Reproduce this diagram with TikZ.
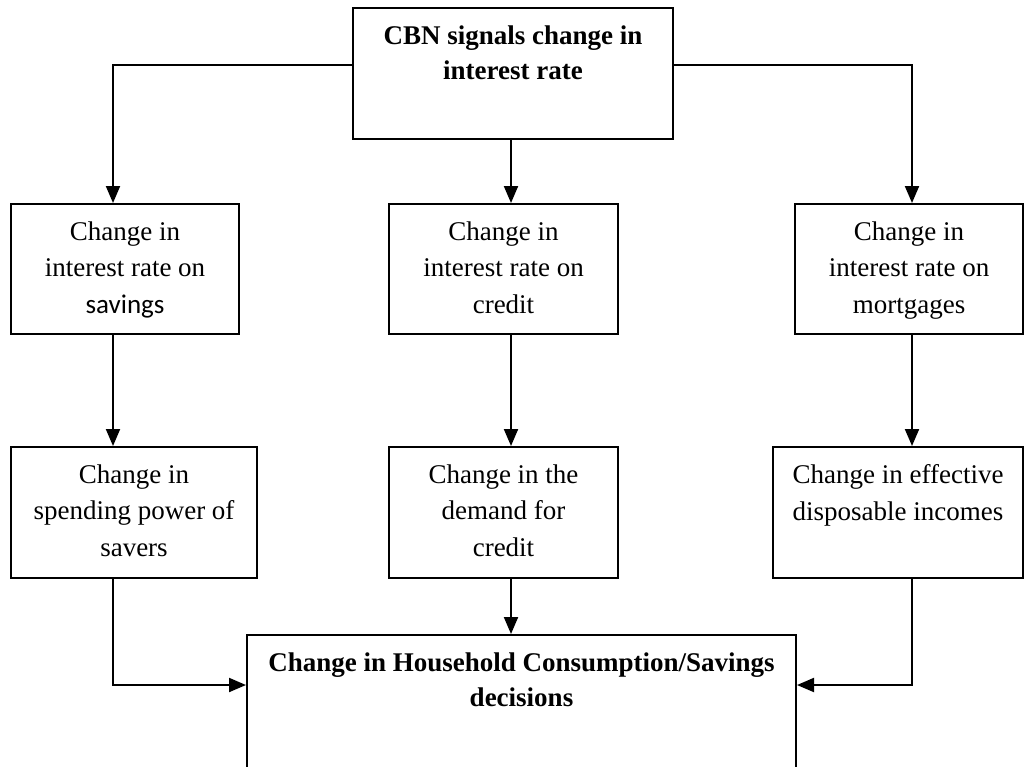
\documentclass[tikz,border=0pt]{standalone}
\usepackage{fontspec}
\setmainfont{Liberation Serif}
\newfontfamily\calibrifont{Carlito}
\usetikzlibrary{arrows.meta}

% text sits at the top of a box of fixed size
\newcommand{\boxtext}[3]{%
  \begin{minipage}[c][#2][t]{#1}\centering\vspace*{17.5pt}#3\end{minipage}}

\begin{document}
\begin{tikzpicture}[x=1pt, y=-1pt,
  box/.style={draw, line width=2pt, inner sep=0pt, anchor=north west,
    font=\fontsize{27}{36.5}\selectfont},
  boldbox/.style={box, font=\fontsize{27}{35.5}\selectfont\bfseries},
  link/.style={line width=2pt},
  arr/.style={link, -{Triangle[length=17pt, width=14pt]}}]
\useasboundingbox (0,0) rectangle (1024,766);

% columns of the connectors
\coordinate (colL) at (113,0);
\coordinate (colM) at (511,0);
\coordinate (colR) at (912,0);

% top box
\node[boldbox] (cbn) at (352,7)
  {\boxtext{320pt}{131pt}{CBN signals change in\\interest rate}};

% second row
\node[box] (sav) at (10,203)
  {\boxtext{228pt}{130pt}{Change in\\interest rate on\\{\calibrifont savings}}};
\node[box] (cred) at (388,203)
  {\boxtext{229pt}{130pt}{Change in\\interest rate on\\credit}};
\node[box] (mort) at (794,203)
  {\boxtext{228pt}{130pt}{Change in\\interest rate on\\mortgages}};

% third row
\node[box] (spend) at (10,446)
  {\boxtext{246pt}{131pt}{Change in\\spending power of\\savers}};
\node[box] (demand) at (388,446)
  {\boxtext{229pt}{131pt}{Change in the\\demand for\\credit}};
\node[box] (income) at (772,446)
  {\boxtext{250pt}{131pt}{Change in effective\\disposable incomes}};

% bottom box
\node[boldbox] (hh) at (246,634)
  {\boxtext{549pt}{140pt}{Change in Household Consumption/Savings\\decisions}};

% connectors
\draw[arr] ([yshift=8.5pt]cbn.west) -| (sav.north -| colL);
\draw[arr] (cbn.south -| colM) -- (cred.north -| colM);
\draw[arr] ([yshift=8.5pt]cbn.east) -| (mort.north -| colR);

\draw[arr] (sav.south -| colL) -- (spend.north -| colL);
\draw[arr] (cred.south -| colM) -- (demand.north -| colM);
\draw[arr] (mort.south -| colR) -- (income.north -| colR);

\draw[arr] (spend.south -| colL) |- ([yshift=20pt]hh.west);
\draw[arr] (demand.south -| colM) -- (hh.north -| colM);
\draw[arr] (income.south -| colR) |- ([yshift=20pt]hh.east);

\end{tikzpicture}
\end{document}
